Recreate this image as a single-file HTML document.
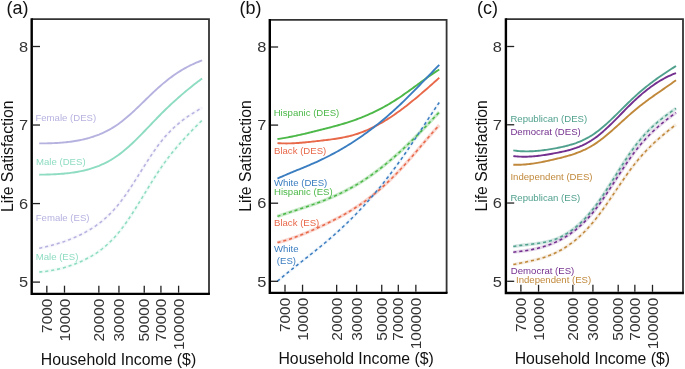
<!DOCTYPE html><html><head><meta charset="utf-8"><style>html,body{margin:0;padding:0;background:#fff;width:685px;height:369px;overflow:hidden}svg{display:block;will-change:transform;filter:blur(0.3px)}text{font-family:"Liberation Sans",sans-serif}</style></head><body>
<svg width="685" height="369" viewBox="0 0 685 369">
<rect width="685" height="369" fill="#fff"/>
<path d="M39.23 143.42 L40.72 143.41 L42.22 143.40 L43.71 143.39 L45.21 143.37 L46.70 143.34 L48.20 143.31 L49.69 143.27 L51.19 143.22 L52.68 143.17 L54.17 143.10 L55.67 143.03 L57.16 142.95 L58.66 142.86 L60.15 142.75 L61.65 142.64 L63.14 142.51 L64.64 142.38 L66.13 142.23 L67.63 142.06 L69.12 141.89 L70.62 141.69 L72.11 141.49 L73.61 141.27 L75.10 141.03 L76.60 140.78 L78.09 140.51 L79.59 140.22 L81.08 139.91 L82.58 139.59 L84.07 139.25 L85.57 138.88 L87.06 138.50 L88.56 138.09 L90.05 137.66 L91.55 137.21 L93.04 136.73 L94.53 136.22 L96.03 135.69 L97.52 135.13 L99.02 134.55 L100.51 133.93 L102.01 133.28 L103.50 132.60 L105.00 131.89 L106.49 131.15 L107.99 130.37 L109.48 129.56 L110.98 128.71 L112.47 127.83 L113.97 126.91 L115.46 125.95 L116.96 124.95 L118.45 123.91 L119.95 122.83 L121.44 121.70 L122.94 120.54 L124.43 119.34 L125.93 118.10 L127.42 116.83 L128.92 115.53 L130.41 114.21 L131.91 112.86 L133.40 111.48 L134.89 110.09 L136.39 108.68 L137.88 107.25 L139.38 105.82 L140.87 104.37 L142.37 102.92 L143.86 101.46 L145.36 100.01 L146.85 98.55 L148.35 97.10 L149.84 95.65 L151.34 94.22 L152.83 92.80 L154.33 91.39 L155.82 89.99 L157.32 88.62 L158.81 87.27 L160.31 85.95 L161.80 84.65 L163.30 83.38 L164.79 82.15 L166.29 80.94 L167.78 79.76 L169.28 78.61 L170.77 77.48 L172.27 76.39 L173.76 75.32 L175.25 74.29 L176.75 73.28 L178.24 72.30 L179.74 71.35 L181.23 70.43 L182.73 69.53 L184.22 68.66 L185.72 67.82 L187.21 67.01 L188.71 66.23 L190.20 65.47 L191.70 64.74 L193.19 64.04 L194.69 63.36 L196.18 62.71 L197.68 62.09 L199.17 61.50 L200.67 60.93 L202.16 60.39" fill="none" stroke="#b6b2e0" stroke-width="1.9"/>
<path d="M39.23 174.69 L40.72 174.67 L42.22 174.64 L43.71 174.62 L45.21 174.58 L46.70 174.55 L48.20 174.50 L49.69 174.46 L51.19 174.40 L52.68 174.34 L54.17 174.28 L55.67 174.20 L57.16 174.12 L58.66 174.03 L60.15 173.92 L61.65 173.81 L63.14 173.69 L64.64 173.55 L66.13 173.40 L67.63 173.24 L69.12 173.07 L70.62 172.88 L72.11 172.68 L73.61 172.46 L75.10 172.23 L76.60 171.98 L78.09 171.72 L79.59 171.43 L81.08 171.13 L82.58 170.81 L84.07 170.47 L85.57 170.11 L87.06 169.73 L88.56 169.32 L90.05 168.89 L91.55 168.44 L93.04 167.96 L94.53 167.45 L96.03 166.92 L97.52 166.36 L99.02 165.77 L100.51 165.14 L102.01 164.49 L103.50 163.81 L105.00 163.09 L106.49 162.34 L107.99 161.55 L109.48 160.73 L110.98 159.87 L112.47 158.97 L113.97 158.03 L115.46 157.06 L116.96 156.04 L118.45 154.98 L119.95 153.88 L121.44 152.74 L122.94 151.56 L124.43 150.33 L125.93 149.07 L127.42 147.77 L128.92 146.44 L130.41 145.07 L131.91 143.68 L133.40 142.26 L134.89 140.82 L136.39 139.35 L137.88 137.87 L139.38 136.37 L140.87 134.85 L142.37 133.32 L143.86 131.77 L145.36 130.22 L146.85 128.66 L148.35 127.10 L149.84 125.53 L151.34 123.97 L152.83 122.41 L154.33 120.85 L155.82 119.30 L157.32 117.76 L158.81 116.22 L160.31 114.71 L161.80 113.20 L163.30 111.72 L164.79 110.25 L166.29 108.80 L167.78 107.36 L169.28 105.94 L170.77 104.54 L172.27 103.15 L173.76 101.78 L175.25 100.43 L176.75 99.09 L178.24 97.76 L179.74 96.45 L181.23 95.15 L182.73 93.87 L184.22 92.60 L185.72 91.35 L187.21 90.11 L188.71 88.88 L190.20 87.67 L191.70 86.47 L193.19 85.29 L194.69 84.12 L196.18 82.96 L197.68 81.81 L199.17 80.67 L200.67 79.55 L202.16 78.44" fill="none" stroke="#8edcc2" stroke-width="1.9"/>
<path d="M39.23 248.23 L40.72 247.93 L42.22 247.61 L43.71 247.29 L45.21 246.96 L46.70 246.61 L48.20 246.25 L49.69 245.88 L51.19 245.49 L52.68 245.10 L54.17 244.68 L55.67 244.26 L57.16 243.82 L58.66 243.36 L60.15 242.89 L61.65 242.40 L63.14 241.90 L64.64 241.38 L66.13 240.84 L67.63 240.28 L69.12 239.71 L70.62 239.12 L72.11 238.51 L73.61 237.88 L75.10 237.24 L76.60 236.57 L78.09 235.88 L79.59 235.18 L81.08 234.45 L82.58 233.69 L84.07 232.92 L85.57 232.12 L87.06 231.29 L88.56 230.43 L90.05 229.54 L91.55 228.62 L93.04 227.66 L94.53 226.67 L96.03 225.64 L97.52 224.56 L99.02 223.45 L100.51 222.30 L102.01 221.10 L103.50 219.85 L105.00 218.56 L106.49 217.21 L107.99 215.81 L109.48 214.36 L110.98 212.86 L112.47 211.30 L113.97 209.68 L115.46 208.00 L116.96 206.26 L118.45 204.45 L119.95 202.58 L121.44 200.64 L122.94 198.64 L124.43 196.58 L125.93 194.47 L127.42 192.30 L128.92 190.10 L130.41 187.85 L131.91 185.57 L133.40 183.27 L134.89 180.93 L136.39 178.58 L137.88 176.22 L139.38 173.85 L140.87 171.47 L142.37 169.10 L143.86 166.73 L145.36 164.38 L146.85 162.04 L148.35 159.72 L149.84 157.43 L151.34 155.17 L152.83 152.95 L154.33 150.77 L155.82 148.63 L157.32 146.55 L158.81 144.53 L160.31 142.56 L161.80 140.67 L163.30 138.84 L164.79 137.07 L166.29 135.37 L167.78 133.74 L169.28 132.16 L170.77 130.64 L172.27 129.17 L173.76 127.75 L175.25 126.39 L176.75 125.07 L178.24 123.80 L179.74 122.57 L181.23 121.38 L182.73 120.23 L184.22 119.11 L185.72 118.03 L187.21 116.98 L188.71 115.96 L190.20 114.97 L191.70 114.00 L193.19 113.05 L194.69 112.12 L196.18 111.21 L197.68 110.32 L199.17 109.44 L200.67 108.56 L202.16 107.70" fill="none" stroke="#b6b2e0" stroke-opacity="0.10" stroke-width="3.4"/>
<path d="M39.23 248.23 L40.72 247.93 L42.22 247.61 L43.71 247.29 L45.21 246.96 L46.70 246.61 L48.20 246.25 L49.69 245.88 L51.19 245.49 L52.68 245.10 L54.17 244.68 L55.67 244.26 L57.16 243.82 L58.66 243.36 L60.15 242.89 L61.65 242.40 L63.14 241.90 L64.64 241.38 L66.13 240.84 L67.63 240.28 L69.12 239.71 L70.62 239.12 L72.11 238.51 L73.61 237.88 L75.10 237.24 L76.60 236.57 L78.09 235.88 L79.59 235.18 L81.08 234.45 L82.58 233.69 L84.07 232.92 L85.57 232.12 L87.06 231.29 L88.56 230.43 L90.05 229.54 L91.55 228.62 L93.04 227.66 L94.53 226.67 L96.03 225.64 L97.52 224.56 L99.02 223.45 L100.51 222.30 L102.01 221.10 L103.50 219.85 L105.00 218.56 L106.49 217.21 L107.99 215.81 L109.48 214.36 L110.98 212.86 L112.47 211.30 L113.97 209.68 L115.46 208.00 L116.96 206.26 L118.45 204.45 L119.95 202.58 L121.44 200.64 L122.94 198.64 L124.43 196.58 L125.93 194.47 L127.42 192.30 L128.92 190.10 L130.41 187.85 L131.91 185.57 L133.40 183.27 L134.89 180.93 L136.39 178.58 L137.88 176.22 L139.38 173.85 L140.87 171.47 L142.37 169.10 L143.86 166.73 L145.36 164.38 L146.85 162.04 L148.35 159.72 L149.84 157.43 L151.34 155.17 L152.83 152.95 L154.33 150.77 L155.82 148.63 L157.32 146.55 L158.81 144.53 L160.31 142.56 L161.80 140.67 L163.30 138.84 L164.79 137.07 L166.29 135.37 L167.78 133.74 L169.28 132.16 L170.77 130.64 L172.27 129.17 L173.76 127.75 L175.25 126.39 L176.75 125.07 L178.24 123.80 L179.74 122.57 L181.23 121.38 L182.73 120.23 L184.22 119.11 L185.72 118.03 L187.21 116.98 L188.71 115.96 L190.20 114.97 L191.70 114.00 L193.19 113.05 L194.69 112.12 L196.18 111.21 L197.68 110.32 L199.17 109.44 L200.67 108.56 L202.16 107.70" fill="none" stroke="#b6b2e0" stroke-width="1.55" stroke-dasharray="3.1 2.9"/>
<path d="M39.23 272.00 L40.72 271.88 L42.22 271.75 L43.71 271.60 L45.21 271.43 L46.70 271.24 L48.20 271.03 L49.69 270.80 L51.19 270.56 L52.68 270.29 L54.17 270.01 L55.67 269.70 L57.16 269.38 L58.66 269.04 L60.15 268.67 L61.65 268.29 L63.14 267.89 L64.64 267.46 L66.13 267.02 L67.63 266.56 L69.12 266.07 L70.62 265.57 L72.11 265.04 L73.61 264.49 L75.10 263.92 L76.60 263.33 L78.09 262.72 L79.59 262.09 L81.08 261.43 L82.58 260.76 L84.07 260.05 L85.57 259.32 L87.06 258.56 L88.56 257.77 L90.05 256.95 L91.55 256.10 L93.04 255.20 L94.53 254.27 L96.03 253.31 L97.52 252.30 L99.02 251.24 L100.51 250.14 L102.01 249.00 L103.50 247.81 L105.00 246.57 L106.49 245.27 L107.99 243.92 L109.48 242.52 L110.98 241.06 L112.47 239.54 L113.97 237.96 L115.46 236.32 L116.96 234.61 L118.45 232.84 L119.95 231.00 L121.44 229.09 L122.94 227.11 L124.43 225.07 L125.93 222.97 L127.42 220.82 L128.92 218.62 L130.41 216.38 L131.91 214.09 L133.40 211.77 L134.89 209.41 L136.39 207.03 L137.88 204.63 L139.38 202.20 L140.87 199.77 L142.37 197.32 L143.86 194.86 L145.36 192.41 L146.85 189.96 L148.35 187.51 L149.84 185.08 L151.34 182.67 L152.83 180.27 L154.33 177.90 L155.82 175.56 L157.32 173.25 L158.81 170.99 L160.31 168.76 L161.80 166.58 L163.30 164.45 L164.79 162.36 L166.29 160.33 L167.78 158.33 L169.28 156.37 L170.77 154.46 L172.27 152.58 L173.76 150.74 L175.25 148.93 L176.75 147.15 L178.24 145.41 L179.74 143.69 L181.23 142.00 L182.73 140.34 L184.22 138.70 L185.72 137.08 L187.21 135.48 L188.71 133.90 L190.20 132.33 L191.70 130.78 L193.19 129.24 L194.69 127.72 L196.18 126.20 L197.68 124.69 L199.17 123.18 L200.67 121.68 L202.16 120.19" fill="none" stroke="#8edcc2" stroke-opacity="0.12" stroke-width="3.4"/>
<path d="M39.23 272.00 L40.72 271.88 L42.22 271.75 L43.71 271.60 L45.21 271.43 L46.70 271.24 L48.20 271.03 L49.69 270.80 L51.19 270.56 L52.68 270.29 L54.17 270.01 L55.67 269.70 L57.16 269.38 L58.66 269.04 L60.15 268.67 L61.65 268.29 L63.14 267.89 L64.64 267.46 L66.13 267.02 L67.63 266.56 L69.12 266.07 L70.62 265.57 L72.11 265.04 L73.61 264.49 L75.10 263.92 L76.60 263.33 L78.09 262.72 L79.59 262.09 L81.08 261.43 L82.58 260.76 L84.07 260.05 L85.57 259.32 L87.06 258.56 L88.56 257.77 L90.05 256.95 L91.55 256.10 L93.04 255.20 L94.53 254.27 L96.03 253.31 L97.52 252.30 L99.02 251.24 L100.51 250.14 L102.01 249.00 L103.50 247.81 L105.00 246.57 L106.49 245.27 L107.99 243.92 L109.48 242.52 L110.98 241.06 L112.47 239.54 L113.97 237.96 L115.46 236.32 L116.96 234.61 L118.45 232.84 L119.95 231.00 L121.44 229.09 L122.94 227.11 L124.43 225.07 L125.93 222.97 L127.42 220.82 L128.92 218.62 L130.41 216.38 L131.91 214.09 L133.40 211.77 L134.89 209.41 L136.39 207.03 L137.88 204.63 L139.38 202.20 L140.87 199.77 L142.37 197.32 L143.86 194.86 L145.36 192.41 L146.85 189.96 L148.35 187.51 L149.84 185.08 L151.34 182.67 L152.83 180.27 L154.33 177.90 L155.82 175.56 L157.32 173.25 L158.81 170.99 L160.31 168.76 L161.80 166.58 L163.30 164.45 L164.79 162.36 L166.29 160.33 L167.78 158.33 L169.28 156.37 L170.77 154.46 L172.27 152.58 L173.76 150.74 L175.25 148.93 L176.75 147.15 L178.24 145.41 L179.74 143.69 L181.23 142.00 L182.73 140.34 L184.22 138.70 L185.72 137.08 L187.21 135.48 L188.71 133.90 L190.20 132.33 L191.70 130.78 L193.19 129.24 L194.69 127.72 L196.18 126.20 L197.68 124.69 L199.17 123.18 L200.67 121.68 L202.16 120.19" fill="none" stroke="#8edcc2" stroke-width="1.55" stroke-dasharray="3.1 2.9"/>
<text x="35.4" y="121.4" font-size="9.6" fill="#b6b2e0">Female (DES)</text>
<text x="36.0" y="165.1" font-size="9.6" fill="#8edcc2">Male (DES)</text>
<text x="35.7" y="221.4" font-size="9.6" fill="#b6b2e0">Female (ES)</text>
<text x="35.7" y="260.1" font-size="9.6" fill="#8edcc2">Male (ES)</text>
<path d="M31.70 19.10 H209.00 V293.90" fill="none" stroke="#333" stroke-width="1.8"/>
<path d="M31.70 18.20 V293.90 H209.90" fill="none" stroke="#000" stroke-width="2.4"/>
<line x1="32.90" y1="46.50" x2="40.00" y2="46.50" stroke="#222" stroke-width="1.3"/>
<text transform="translate(28.00 51.72) scale(1.05 0.970)" font-size="15.6" fill="#333" text-anchor="end">8</text>
<line x1="32.90" y1="125.03" x2="40.00" y2="125.03" stroke="#222" stroke-width="1.3"/>
<text transform="translate(28.00 130.25) scale(1.05 0.970)" font-size="15.6" fill="#333" text-anchor="end">7</text>
<line x1="32.90" y1="203.57" x2="40.00" y2="203.57" stroke="#222" stroke-width="1.3"/>
<text transform="translate(28.00 208.78) scale(1.05 0.970)" font-size="15.6" fill="#333" text-anchor="end">6</text>
<line x1="32.90" y1="282.10" x2="40.00" y2="282.10" stroke="#222" stroke-width="1.3"/>
<text transform="translate(28.00 287.32) scale(1.05 0.970)" font-size="15.6" fill="#333" text-anchor="end">5</text>
<line x1="46.83" y1="285.70" x2="46.83" y2="292.70" stroke="#222" stroke-width="1.3"/>
<text transform="translate(51.95 298.60) rotate(-90) scale(1 0.900)" font-size="15.45" fill="#333" text-anchor="end">7000</text>
<line x1="64.50" y1="285.70" x2="64.50" y2="292.70" stroke="#222" stroke-width="1.3"/>
<text transform="translate(69.63 298.60) rotate(-90) scale(1 0.900)" font-size="15.45" fill="#333" text-anchor="end">10000</text>
<line x1="98.85" y1="285.70" x2="98.85" y2="292.70" stroke="#222" stroke-width="1.3"/>
<text transform="translate(103.97 298.60) rotate(-90) scale(1 0.900)" font-size="15.45" fill="#333" text-anchor="end">20000</text>
<line x1="118.94" y1="285.70" x2="118.94" y2="292.70" stroke="#222" stroke-width="1.3"/>
<text transform="translate(124.07 298.60) rotate(-90) scale(1 0.900)" font-size="15.45" fill="#333" text-anchor="end">30000</text>
<line x1="144.25" y1="285.70" x2="144.25" y2="292.70" stroke="#222" stroke-width="1.3"/>
<text transform="translate(149.38 298.60) rotate(-90) scale(1 0.900)" font-size="15.45" fill="#333" text-anchor="end">50000</text>
<line x1="160.93" y1="285.70" x2="160.93" y2="292.70" stroke="#222" stroke-width="1.3"/>
<text transform="translate(166.05 298.60) rotate(-90) scale(1 0.900)" font-size="15.45" fill="#333" text-anchor="end">70000</text>
<line x1="178.60" y1="285.70" x2="178.60" y2="292.70" stroke="#222" stroke-width="1.3"/>
<text transform="translate(183.73 298.60) rotate(-90) scale(1 0.900)" font-size="15.45" fill="#333" text-anchor="end">100000</text>
<text x="6.60" y="14.00" font-size="18" fill="#111">(a)</text>
<text x="118.45" y="364.90" font-size="15.8" fill="#111" text-anchor="middle">Household Income ($)</text>
<text x="12.60" y="156.25" font-size="15.8" fill="#111" text-anchor="middle" transform="rotate(-90 12.60 156.25)">Life Satisfaction</text>
<path d="M277.45 139.03 L278.95 138.82 L280.45 138.60 L281.95 138.37 L283.45 138.13 L284.94 137.87 L286.44 137.61 L287.94 137.34 L289.44 137.05 L290.94 136.76 L292.43 136.46 L293.93 136.15 L295.43 135.84 L296.93 135.52 L298.43 135.19 L299.93 134.85 L301.42 134.51 L302.92 134.16 L304.42 133.81 L305.92 133.46 L307.42 133.10 L308.91 132.74 L310.41 132.37 L311.91 132.00 L313.41 131.63 L314.91 131.26 L316.40 130.89 L317.90 130.51 L319.40 130.14 L320.90 129.76 L322.40 129.39 L323.89 129.01 L325.39 128.63 L326.89 128.25 L328.39 127.86 L329.89 127.48 L331.38 127.08 L332.88 126.68 L334.38 126.28 L335.88 125.87 L337.38 125.46 L338.88 125.03 L340.37 124.61 L341.87 124.17 L343.37 123.72 L344.87 123.27 L346.37 122.81 L347.86 122.33 L349.36 121.85 L350.86 121.35 L352.36 120.85 L353.86 120.33 L355.35 119.80 L356.85 119.26 L358.35 118.70 L359.85 118.13 L361.35 117.55 L362.84 116.95 L364.34 116.33 L365.84 115.71 L367.34 115.06 L368.84 114.41 L370.33 113.74 L371.83 113.05 L373.33 112.35 L374.83 111.63 L376.33 110.89 L377.83 110.15 L379.32 109.38 L380.82 108.60 L382.32 107.80 L383.82 106.99 L385.32 106.16 L386.81 105.31 L388.31 104.45 L389.81 103.57 L391.31 102.67 L392.81 101.76 L394.30 100.83 L395.80 99.88 L397.30 98.91 L398.80 97.93 L400.30 96.93 L401.79 95.91 L403.29 94.88 L404.79 93.83 L406.29 92.77 L407.79 91.71 L409.28 90.63 L410.78 89.55 L412.28 88.46 L413.78 87.36 L415.28 86.26 L416.78 85.16 L418.27 84.07 L419.77 82.97 L421.27 81.87 L422.77 80.78 L424.27 79.70 L425.76 78.62 L427.26 77.56 L428.76 76.50 L430.26 75.45 L431.76 74.42 L433.25 73.40 L434.75 72.40 L436.25 71.42 L437.75 70.46 L439.25 69.51" fill="none" stroke="#4cb848" stroke-width="1.9"/>
<path d="M277.45 143.15 L278.95 143.24 L280.45 143.31 L281.95 143.37 L283.45 143.41 L284.94 143.42 L286.44 143.43 L287.94 143.41 L289.44 143.38 L290.94 143.34 L292.43 143.28 L293.93 143.21 L295.43 143.13 L296.93 143.04 L298.43 142.94 L299.93 142.82 L301.42 142.70 L302.92 142.57 L304.42 142.44 L305.92 142.29 L307.42 142.14 L308.91 141.99 L310.41 141.83 L311.91 141.67 L313.41 141.50 L314.91 141.33 L316.40 141.16 L317.90 141.00 L319.40 140.83 L320.90 140.66 L322.40 140.49 L323.89 140.31 L325.39 140.14 L326.89 139.96 L328.39 139.77 L329.89 139.58 L331.38 139.38 L332.88 139.17 L334.38 138.96 L335.88 138.73 L337.38 138.49 L338.88 138.25 L340.37 137.98 L341.87 137.71 L343.37 137.42 L344.87 137.11 L346.37 136.79 L347.86 136.45 L349.36 136.09 L350.86 135.71 L352.36 135.30 L353.86 134.88 L355.35 134.44 L356.85 133.97 L358.35 133.48 L359.85 132.96 L361.35 132.42 L362.84 131.85 L364.34 131.25 L365.84 130.64 L367.34 130.00 L368.84 129.33 L370.33 128.64 L371.83 127.93 L373.33 127.20 L374.83 126.44 L376.33 125.66 L377.83 124.86 L379.32 124.04 L380.82 123.19 L382.32 122.33 L383.82 121.44 L385.32 120.53 L386.81 119.61 L388.31 118.66 L389.81 117.70 L391.31 116.71 L392.81 115.71 L394.30 114.68 L395.80 113.64 L397.30 112.59 L398.80 111.51 L400.30 110.41 L401.79 109.30 L403.29 108.18 L404.79 107.04 L406.29 105.88 L407.79 104.71 L409.28 103.52 L410.78 102.32 L412.28 101.11 L413.78 99.88 L415.28 98.65 L416.78 97.40 L418.27 96.15 L419.77 94.88 L421.27 93.60 L422.77 92.32 L424.27 91.03 L425.76 89.73 L427.26 88.42 L428.76 87.10 L430.26 85.79 L431.76 84.46 L433.25 83.13 L434.75 81.80 L436.25 80.46 L437.75 79.12 L439.25 77.78" fill="none" stroke="#e8684a" stroke-width="1.9"/>
<path d="M277.45 178.58 L278.95 177.90 L280.45 177.22 L281.95 176.55 L283.45 175.90 L284.94 175.25 L286.44 174.61 L287.94 173.97 L289.44 173.34 L290.94 172.71 L292.43 172.09 L293.93 171.47 L295.43 170.86 L296.93 170.24 L298.43 169.63 L299.93 169.01 L301.42 168.40 L302.92 167.78 L304.42 167.16 L305.92 166.54 L307.42 165.91 L308.91 165.28 L310.41 164.64 L311.91 163.99 L313.41 163.34 L314.91 162.68 L316.40 162.01 L317.90 161.33 L319.40 160.64 L320.90 159.94 L322.40 159.22 L323.89 158.50 L325.39 157.76 L326.89 157.02 L328.39 156.26 L329.89 155.49 L331.38 154.71 L332.88 153.91 L334.38 153.11 L335.88 152.29 L337.38 151.46 L338.88 150.62 L340.37 149.76 L341.87 148.90 L343.37 148.02 L344.87 147.13 L346.37 146.22 L347.86 145.30 L349.36 144.37 L350.86 143.43 L352.36 142.47 L353.86 141.50 L355.35 140.52 L356.85 139.53 L358.35 138.52 L359.85 137.49 L361.35 136.46 L362.84 135.41 L364.34 134.34 L365.84 133.26 L367.34 132.17 L368.84 131.06 L370.33 129.94 L371.83 128.81 L373.33 127.66 L374.83 126.50 L376.33 125.32 L377.83 124.13 L379.32 122.92 L380.82 121.70 L382.32 120.46 L383.82 119.21 L385.32 117.95 L386.81 116.67 L388.31 115.37 L389.81 114.06 L391.31 112.74 L392.81 111.40 L394.30 110.04 L395.80 108.67 L397.30 107.28 L398.80 105.88 L400.30 104.46 L401.79 103.03 L403.29 101.59 L404.79 100.13 L406.29 98.66 L407.79 97.17 L409.28 95.68 L410.78 94.18 L412.28 92.67 L413.78 91.15 L415.28 89.62 L416.78 88.08 L418.27 86.54 L419.77 85.00 L421.27 83.45 L422.77 81.90 L424.27 80.34 L425.76 78.79 L427.26 77.23 L428.76 75.67 L430.26 74.11 L431.76 72.56 L433.25 71.00 L434.75 69.45 L436.25 67.90 L437.75 66.36 L439.25 64.82" fill="none" stroke="#3a7dc0" stroke-width="1.9"/>
<path d="M277.45 216.38 L278.95 215.86 L280.45 215.35 L281.95 214.85 L283.45 214.35 L284.94 213.85 L286.44 213.35 L287.94 212.86 L289.44 212.37 L290.94 211.88 L292.43 211.39 L293.93 210.90 L295.43 210.41 L296.93 209.92 L298.43 209.43 L299.93 208.94 L301.42 208.45 L302.92 207.95 L304.42 207.45 L305.92 206.95 L307.42 206.44 L308.91 205.93 L310.41 205.42 L311.91 204.89 L313.41 204.37 L314.91 203.83 L316.40 203.29 L317.90 202.74 L319.40 202.19 L320.90 201.62 L322.40 201.05 L323.89 200.47 L325.39 199.88 L326.89 199.28 L328.39 198.67 L329.89 198.04 L331.38 197.41 L332.88 196.77 L334.38 196.11 L335.88 195.44 L337.38 194.76 L338.88 194.07 L340.37 193.36 L341.87 192.64 L343.37 191.90 L344.87 191.15 L346.37 190.39 L347.86 189.60 L349.36 188.81 L350.86 188.00 L352.36 187.17 L353.86 186.32 L355.35 185.46 L356.85 184.57 L358.35 183.68 L359.85 182.76 L361.35 181.82 L362.84 180.87 L364.34 179.89 L365.84 178.90 L367.34 177.89 L368.84 176.87 L370.33 175.82 L371.83 174.76 L373.33 173.68 L374.83 172.59 L376.33 171.48 L377.83 170.35 L379.32 169.20 L380.82 168.04 L382.32 166.86 L383.82 165.67 L385.32 164.46 L386.81 163.23 L388.31 161.99 L389.81 160.74 L391.31 159.46 L392.81 158.18 L394.30 156.88 L395.80 155.56 L397.30 154.23 L398.80 152.88 L400.30 151.52 L401.79 150.15 L403.29 148.76 L404.79 147.36 L406.29 145.94 L407.79 144.51 L409.28 143.07 L410.78 141.62 L412.28 140.16 L413.78 138.68 L415.28 137.20 L416.78 135.70 L418.27 134.19 L419.77 132.67 L421.27 131.14 L422.77 129.60 L424.27 128.05 L425.76 126.49 L427.26 124.92 L428.76 123.35 L430.26 121.76 L431.76 120.17 L433.25 118.57 L434.75 116.96 L436.25 115.35 L437.75 113.73 L439.25 112.10" fill="none" stroke="#4cb848" stroke-opacity="0.30" stroke-width="3.4"/>
<path d="M277.45 216.38 L278.95 215.86 L280.45 215.35 L281.95 214.85 L283.45 214.35 L284.94 213.85 L286.44 213.35 L287.94 212.86 L289.44 212.37 L290.94 211.88 L292.43 211.39 L293.93 210.90 L295.43 210.41 L296.93 209.92 L298.43 209.43 L299.93 208.94 L301.42 208.45 L302.92 207.95 L304.42 207.45 L305.92 206.95 L307.42 206.44 L308.91 205.93 L310.41 205.42 L311.91 204.89 L313.41 204.37 L314.91 203.83 L316.40 203.29 L317.90 202.74 L319.40 202.19 L320.90 201.62 L322.40 201.05 L323.89 200.47 L325.39 199.88 L326.89 199.28 L328.39 198.67 L329.89 198.04 L331.38 197.41 L332.88 196.77 L334.38 196.11 L335.88 195.44 L337.38 194.76 L338.88 194.07 L340.37 193.36 L341.87 192.64 L343.37 191.90 L344.87 191.15 L346.37 190.39 L347.86 189.60 L349.36 188.81 L350.86 188.00 L352.36 187.17 L353.86 186.32 L355.35 185.46 L356.85 184.57 L358.35 183.68 L359.85 182.76 L361.35 181.82 L362.84 180.87 L364.34 179.89 L365.84 178.90 L367.34 177.89 L368.84 176.87 L370.33 175.82 L371.83 174.76 L373.33 173.68 L374.83 172.59 L376.33 171.48 L377.83 170.35 L379.32 169.20 L380.82 168.04 L382.32 166.86 L383.82 165.67 L385.32 164.46 L386.81 163.23 L388.31 161.99 L389.81 160.74 L391.31 159.46 L392.81 158.18 L394.30 156.88 L395.80 155.56 L397.30 154.23 L398.80 152.88 L400.30 151.52 L401.79 150.15 L403.29 148.76 L404.79 147.36 L406.29 145.94 L407.79 144.51 L409.28 143.07 L410.78 141.62 L412.28 140.16 L413.78 138.68 L415.28 137.20 L416.78 135.70 L418.27 134.19 L419.77 132.67 L421.27 131.14 L422.77 129.60 L424.27 128.05 L425.76 126.49 L427.26 124.92 L428.76 123.35 L430.26 121.76 L431.76 120.17 L433.25 118.57 L434.75 116.96 L436.25 115.35 L437.75 113.73 L439.25 112.10" fill="none" stroke="#4cb848" stroke-width="1.55" stroke-dasharray="3.1 2.9"/>
<path d="M277.45 242.56 L278.95 242.20 L280.45 241.82 L281.95 241.42 L283.45 241.01 L284.94 240.57 L286.44 240.12 L287.94 239.65 L289.44 239.17 L290.94 238.67 L292.43 238.16 L293.93 237.63 L295.43 237.09 L296.93 236.53 L298.43 235.97 L299.93 235.39 L301.42 234.80 L302.92 234.19 L304.42 233.58 L305.92 232.96 L307.42 232.33 L308.91 231.69 L310.41 231.04 L311.91 230.39 L313.41 229.73 L314.91 229.06 L316.40 228.38 L317.90 227.70 L319.40 227.02 L320.90 226.33 L322.40 225.63 L323.89 224.93 L325.39 224.22 L326.89 223.50 L328.39 222.78 L329.89 222.04 L331.38 221.30 L332.88 220.55 L334.38 219.79 L335.88 219.01 L337.38 218.23 L338.88 217.44 L340.37 216.63 L341.87 215.81 L343.37 214.97 L344.87 214.13 L346.37 213.26 L347.86 212.39 L349.36 211.50 L350.86 210.59 L352.36 209.67 L353.86 208.72 L355.35 207.77 L356.85 206.79 L358.35 205.80 L359.85 204.78 L361.35 203.75 L362.84 202.70 L364.34 201.63 L365.84 200.54 L367.34 199.43 L368.84 198.30 L370.33 197.15 L371.83 195.97 L373.33 194.78 L374.83 193.57 L376.33 192.34 L377.83 191.08 L379.32 189.80 L380.82 188.51 L382.32 187.19 L383.82 185.84 L385.32 184.48 L386.81 183.09 L388.31 181.68 L389.81 180.25 L391.31 178.80 L392.81 177.32 L394.30 175.82 L395.80 174.29 L397.30 172.74 L398.80 171.17 L400.30 169.57 L401.79 167.96 L403.29 166.32 L404.79 164.66 L406.29 162.98 L407.79 161.29 L409.28 159.59 L410.78 157.87 L412.28 156.15 L413.78 154.41 L415.28 152.67 L416.78 150.92 L418.27 149.17 L419.77 147.42 L421.27 145.66 L422.77 143.91 L424.27 142.16 L425.76 140.42 L427.26 138.68 L428.76 136.95 L430.26 135.23 L431.76 133.52 L433.25 131.82 L434.75 130.14 L436.25 128.47 L437.75 126.83 L439.25 125.20" fill="none" stroke="#e8684a" stroke-opacity="0.25" stroke-width="3.4"/>
<path d="M277.45 242.56 L278.95 242.20 L280.45 241.82 L281.95 241.42 L283.45 241.01 L284.94 240.57 L286.44 240.12 L287.94 239.65 L289.44 239.17 L290.94 238.67 L292.43 238.16 L293.93 237.63 L295.43 237.09 L296.93 236.53 L298.43 235.97 L299.93 235.39 L301.42 234.80 L302.92 234.19 L304.42 233.58 L305.92 232.96 L307.42 232.33 L308.91 231.69 L310.41 231.04 L311.91 230.39 L313.41 229.73 L314.91 229.06 L316.40 228.38 L317.90 227.70 L319.40 227.02 L320.90 226.33 L322.40 225.63 L323.89 224.93 L325.39 224.22 L326.89 223.50 L328.39 222.78 L329.89 222.04 L331.38 221.30 L332.88 220.55 L334.38 219.79 L335.88 219.01 L337.38 218.23 L338.88 217.44 L340.37 216.63 L341.87 215.81 L343.37 214.97 L344.87 214.13 L346.37 213.26 L347.86 212.39 L349.36 211.50 L350.86 210.59 L352.36 209.67 L353.86 208.72 L355.35 207.77 L356.85 206.79 L358.35 205.80 L359.85 204.78 L361.35 203.75 L362.84 202.70 L364.34 201.63 L365.84 200.54 L367.34 199.43 L368.84 198.30 L370.33 197.15 L371.83 195.97 L373.33 194.78 L374.83 193.57 L376.33 192.34 L377.83 191.08 L379.32 189.80 L380.82 188.51 L382.32 187.19 L383.82 185.84 L385.32 184.48 L386.81 183.09 L388.31 181.68 L389.81 180.25 L391.31 178.80 L392.81 177.32 L394.30 175.82 L395.80 174.29 L397.30 172.74 L398.80 171.17 L400.30 169.57 L401.79 167.96 L403.29 166.32 L404.79 164.66 L406.29 162.98 L407.79 161.29 L409.28 159.59 L410.78 157.87 L412.28 156.15 L413.78 154.41 L415.28 152.67 L416.78 150.92 L418.27 149.17 L419.77 147.42 L421.27 145.66 L422.77 143.91 L424.27 142.16 L425.76 140.42 L427.26 138.68 L428.76 136.95 L430.26 135.23 L431.76 133.52 L433.25 131.82 L434.75 130.14 L436.25 128.47 L437.75 126.83 L439.25 125.20" fill="none" stroke="#e8684a" stroke-width="1.55" stroke-dasharray="3.1 2.9"/>
<path d="M277.45 281.25 L278.95 279.96 L280.45 278.67 L281.95 277.40 L283.45 276.15 L284.94 274.90 L286.44 273.67 L287.94 272.45 L289.44 271.23 L290.94 270.03 L292.43 268.83 L293.93 267.64 L295.43 266.45 L296.93 265.27 L298.43 264.09 L299.93 262.91 L301.42 261.74 L302.92 260.57 L304.42 259.40 L305.92 258.22 L307.42 257.05 L308.91 255.87 L310.41 254.69 L311.91 253.51 L313.41 252.32 L314.91 251.12 L316.40 249.92 L317.90 248.71 L319.40 247.49 L320.90 246.26 L322.40 245.02 L323.89 243.77 L325.39 242.51 L326.89 241.24 L328.39 239.96 L329.89 238.67 L331.38 237.37 L332.88 236.06 L334.38 234.73 L335.88 233.39 L337.38 232.04 L338.88 230.68 L340.37 229.31 L341.87 227.92 L343.37 226.51 L344.87 225.09 L346.37 223.66 L347.86 222.22 L349.36 220.75 L350.86 219.28 L352.36 217.78 L353.86 216.27 L355.35 214.75 L356.85 213.21 L358.35 211.65 L359.85 210.07 L361.35 208.48 L362.84 206.87 L364.34 205.24 L365.84 203.59 L367.34 201.93 L368.84 200.25 L370.33 198.55 L371.83 196.83 L373.33 195.09 L374.83 193.33 L376.33 191.56 L377.83 189.76 L379.32 187.95 L380.82 186.12 L382.32 184.27 L383.82 182.39 L385.32 180.50 L386.81 178.59 L388.31 176.66 L389.81 174.71 L391.31 172.74 L392.81 170.74 L394.30 168.73 L395.80 166.69 L397.30 164.64 L398.80 162.56 L400.30 160.46 L401.79 158.35 L403.29 156.21 L404.79 154.06 L406.29 151.89 L407.79 149.70 L409.28 147.50 L410.78 145.29 L412.28 143.07 L413.78 140.83 L415.28 138.59 L416.78 136.34 L418.27 134.08 L419.77 131.82 L421.27 129.55 L422.77 127.28 L424.27 125.01 L425.76 122.74 L427.26 120.46 L428.76 118.19 L430.26 115.92 L431.76 113.66 L433.25 111.40 L434.75 109.15 L436.25 106.91 L437.75 104.67 L439.25 102.45" fill="none" stroke="#3a7dc0" stroke-opacity="0.07" stroke-width="3.4"/>
<path d="M277.45 281.25 L278.95 279.96 L280.45 278.67 L281.95 277.40 L283.45 276.15 L284.94 274.90 L286.44 273.67 L287.94 272.45 L289.44 271.23 L290.94 270.03 L292.43 268.83 L293.93 267.64 L295.43 266.45 L296.93 265.27 L298.43 264.09 L299.93 262.91 L301.42 261.74 L302.92 260.57 L304.42 259.40 L305.92 258.22 L307.42 257.05 L308.91 255.87 L310.41 254.69 L311.91 253.51 L313.41 252.32 L314.91 251.12 L316.40 249.92 L317.90 248.71 L319.40 247.49 L320.90 246.26 L322.40 245.02 L323.89 243.77 L325.39 242.51 L326.89 241.24 L328.39 239.96 L329.89 238.67 L331.38 237.37 L332.88 236.06 L334.38 234.73 L335.88 233.39 L337.38 232.04 L338.88 230.68 L340.37 229.31 L341.87 227.92 L343.37 226.51 L344.87 225.09 L346.37 223.66 L347.86 222.22 L349.36 220.75 L350.86 219.28 L352.36 217.78 L353.86 216.27 L355.35 214.75 L356.85 213.21 L358.35 211.65 L359.85 210.07 L361.35 208.48 L362.84 206.87 L364.34 205.24 L365.84 203.59 L367.34 201.93 L368.84 200.25 L370.33 198.55 L371.83 196.83 L373.33 195.09 L374.83 193.33 L376.33 191.56 L377.83 189.76 L379.32 187.95 L380.82 186.12 L382.32 184.27 L383.82 182.39 L385.32 180.50 L386.81 178.59 L388.31 176.66 L389.81 174.71 L391.31 172.74 L392.81 170.74 L394.30 168.73 L395.80 166.69 L397.30 164.64 L398.80 162.56 L400.30 160.46 L401.79 158.35 L403.29 156.21 L404.79 154.06 L406.29 151.89 L407.79 149.70 L409.28 147.50 L410.78 145.29 L412.28 143.07 L413.78 140.83 L415.28 138.59 L416.78 136.34 L418.27 134.08 L419.77 131.82 L421.27 129.55 L422.77 127.28 L424.27 125.01 L425.76 122.74 L427.26 120.46 L428.76 118.19 L430.26 115.92 L431.76 113.66 L433.25 111.40 L434.75 109.15 L436.25 106.91 L437.75 104.67 L439.25 102.45" fill="none" stroke="#3a7dc0" stroke-width="1.55" stroke-dasharray="3.1 2.9"/>
<text x="273.7" y="115.7" font-size="9.6" fill="#4cb848">Hispanic (DES)</text>
<text x="274.0" y="153.6" font-size="9.6" fill="#e8684a">Black (DES)</text>
<text x="274.0" y="186.0" font-size="9.6" fill="#3a7dc0">White (DES)</text>
<text x="274.0" y="195.3" font-size="9.6" fill="#4cb848">Hispanic (ES)</text>
<text x="274.0" y="225.7" font-size="9.6" fill="#e8684a">Black (ES)</text>
<text x="274.0" y="252.1" font-size="9.6" fill="#3a7dc0">White</text>
<text x="276.8" y="263.6" font-size="9.6" fill="#3a7dc0">(ES)</text>
<path d="M269.80 19.80 H446.60 V292.90" fill="none" stroke="#333" stroke-width="1.8"/>
<path d="M269.80 18.90 V292.90 H447.50" fill="none" stroke="#000" stroke-width="2.4"/>
<line x1="271.00" y1="47.00" x2="278.10" y2="47.00" stroke="#222" stroke-width="1.3"/>
<text transform="translate(266.30 52.22) scale(1.05 0.970)" font-size="15.6" fill="#333" text-anchor="end">8</text>
<line x1="271.00" y1="125.10" x2="278.10" y2="125.10" stroke="#222" stroke-width="1.3"/>
<text transform="translate(266.30 130.32) scale(1.05 0.970)" font-size="15.6" fill="#333" text-anchor="end">7</text>
<line x1="271.00" y1="203.20" x2="278.10" y2="203.20" stroke="#222" stroke-width="1.3"/>
<text transform="translate(266.30 208.42) scale(1.05 0.970)" font-size="15.6" fill="#333" text-anchor="end">6</text>
<line x1="271.00" y1="281.30" x2="278.10" y2="281.30" stroke="#222" stroke-width="1.3"/>
<text transform="translate(266.30 286.52) scale(1.05 0.970)" font-size="15.6" fill="#333" text-anchor="end">5</text>
<line x1="285.00" y1="284.70" x2="285.00" y2="291.70" stroke="#222" stroke-width="1.3"/>
<text transform="translate(290.13 297.70) rotate(-90) scale(1 0.900)" font-size="15.45" fill="#333" text-anchor="end">7000</text>
<line x1="302.55" y1="284.70" x2="302.55" y2="291.70" stroke="#222" stroke-width="1.3"/>
<text transform="translate(307.68 297.70) rotate(-90) scale(1 0.900)" font-size="15.45" fill="#333" text-anchor="end">10000</text>
<line x1="336.66" y1="284.70" x2="336.66" y2="291.70" stroke="#222" stroke-width="1.3"/>
<text transform="translate(341.78 297.70) rotate(-90) scale(1 0.900)" font-size="15.45" fill="#333" text-anchor="end">20000</text>
<line x1="356.61" y1="284.70" x2="356.61" y2="291.70" stroke="#222" stroke-width="1.3"/>
<text transform="translate(361.73 297.70) rotate(-90) scale(1 0.900)" font-size="15.45" fill="#333" text-anchor="end">30000</text>
<line x1="381.74" y1="284.70" x2="381.74" y2="291.70" stroke="#222" stroke-width="1.3"/>
<text transform="translate(386.87 297.70) rotate(-90) scale(1 0.900)" font-size="15.45" fill="#333" text-anchor="end">50000</text>
<line x1="398.30" y1="284.70" x2="398.30" y2="291.70" stroke="#222" stroke-width="1.3"/>
<text transform="translate(403.43 297.70) rotate(-90) scale(1 0.900)" font-size="15.45" fill="#333" text-anchor="end">70000</text>
<line x1="415.85" y1="284.70" x2="415.85" y2="291.70" stroke="#222" stroke-width="1.3"/>
<text transform="translate(420.98 297.70) rotate(-90) scale(1 0.900)" font-size="15.45" fill="#333" text-anchor="end">100000</text>
<text x="239.60" y="14.00" font-size="18" fill="#111">(b)</text>
<text x="356.15" y="363.70" font-size="15.8" fill="#111" text-anchor="middle">Household Income ($)</text>
<text x="251.10" y="156.05" font-size="15.8" fill="#111" text-anchor="middle" transform="rotate(-90 251.10 156.05)">Life Satisfaction</text>
<path d="M513.31 150.40 L514.80 150.61 L516.30 150.79 L517.79 150.95 L519.28 151.08 L520.77 151.18 L522.27 151.26 L523.76 151.32 L525.25 151.35 L526.75 151.36 L528.24 151.35 L529.73 151.32 L531.22 151.27 L532.72 151.20 L534.21 151.11 L535.70 151.00 L537.20 150.88 L538.69 150.74 L540.18 150.58 L541.67 150.42 L543.17 150.23 L544.66 150.04 L546.15 149.83 L547.65 149.61 L549.14 149.37 L550.63 149.13 L552.12 148.88 L553.62 148.62 L555.11 148.35 L556.60 148.08 L558.10 147.79 L559.59 147.50 L561.08 147.19 L562.57 146.86 L564.07 146.52 L565.56 146.16 L567.05 145.78 L568.55 145.38 L570.04 144.96 L571.53 144.52 L573.02 144.05 L574.52 143.55 L576.01 143.03 L577.50 142.47 L579.00 141.88 L580.49 141.26 L581.98 140.61 L583.47 139.92 L584.97 139.19 L586.46 138.42 L587.95 137.61 L589.45 136.76 L590.94 135.87 L592.43 134.93 L593.92 133.94 L595.42 132.90 L596.91 131.82 L598.40 130.69 L599.90 129.51 L601.39 128.30 L602.88 127.05 L604.37 125.77 L605.87 124.45 L607.36 123.11 L608.85 121.74 L610.35 120.34 L611.84 118.93 L613.33 117.50 L614.82 116.05 L616.32 114.59 L617.81 113.12 L619.30 111.64 L620.80 110.16 L622.29 108.68 L623.78 107.20 L625.27 105.72 L626.77 104.25 L628.26 102.80 L629.75 101.35 L631.25 99.92 L632.74 98.50 L634.23 97.11 L635.72 95.74 L637.22 94.40 L638.71 93.08 L640.20 91.78 L641.70 90.51 L643.19 89.25 L644.68 88.03 L646.17 86.82 L647.67 85.63 L649.16 84.46 L650.65 83.31 L652.15 82.18 L653.64 81.06 L655.13 79.97 L656.62 78.89 L658.12 77.82 L659.61 76.77 L661.10 75.73 L662.60 74.71 L664.09 73.69 L665.58 72.70 L667.07 71.71 L668.57 70.73 L670.06 69.76 L671.55 68.80 L673.04 67.85 L674.54 66.91 L676.03 65.97" fill="none" stroke="#50a08e" stroke-width="1.9"/>
<path d="M513.31 156.10 L514.80 156.26 L516.30 156.40 L517.79 156.51 L519.28 156.60 L520.77 156.66 L522.27 156.70 L523.76 156.72 L525.25 156.71 L526.75 156.68 L528.24 156.63 L529.73 156.56 L531.22 156.47 L532.72 156.36 L534.21 156.24 L535.70 156.09 L537.20 155.94 L538.69 155.77 L540.18 155.58 L541.67 155.38 L543.17 155.17 L544.66 154.95 L546.15 154.72 L547.65 154.48 L549.14 154.23 L550.63 153.98 L552.12 153.71 L553.62 153.44 L555.11 153.17 L556.60 152.89 L558.10 152.60 L559.59 152.30 L561.08 151.99 L562.57 151.67 L564.07 151.34 L565.56 150.98 L567.05 150.61 L568.55 150.22 L570.04 149.81 L571.53 149.37 L573.02 148.91 L574.52 148.42 L576.01 147.91 L577.50 147.36 L579.00 146.78 L580.49 146.16 L581.98 145.51 L583.47 144.82 L584.97 144.10 L586.46 143.33 L587.95 142.51 L589.45 141.65 L590.94 140.75 L592.43 139.79 L593.92 138.79 L595.42 137.73 L596.91 136.63 L598.40 135.47 L599.90 134.27 L601.39 133.02 L602.88 131.73 L604.37 130.41 L605.87 129.06 L607.36 127.67 L608.85 126.25 L610.35 124.81 L611.84 123.35 L613.33 121.87 L614.82 120.38 L616.32 118.87 L617.81 117.35 L619.30 115.82 L620.80 114.29 L622.29 112.76 L623.78 111.24 L625.27 109.71 L626.77 108.20 L628.26 106.70 L629.75 105.21 L631.25 103.74 L632.74 102.28 L634.23 100.86 L635.72 99.45 L637.22 98.08 L638.71 96.74 L640.20 95.42 L641.70 94.13 L643.19 92.87 L644.68 91.65 L646.17 90.45 L647.67 89.28 L649.16 88.14 L650.65 87.03 L652.15 85.96 L653.64 84.91 L655.13 83.90 L656.62 82.91 L658.12 81.96 L659.61 81.04 L661.10 80.15 L662.60 79.30 L664.09 78.48 L665.58 77.69 L667.07 76.93 L668.57 76.21 L670.06 75.52 L671.55 74.86 L673.04 74.24 L674.54 73.65 L676.03 73.10" fill="none" stroke="#74308f" stroke-width="1.9"/>
<path d="M513.31 164.69 L514.80 164.75 L516.30 164.78 L517.79 164.79 L519.28 164.77 L520.77 164.73 L522.27 164.66 L523.76 164.57 L525.25 164.45 L526.75 164.32 L528.24 164.17 L529.73 164.00 L531.22 163.81 L532.72 163.60 L534.21 163.38 L535.70 163.15 L537.20 162.90 L538.69 162.63 L540.18 162.36 L541.67 162.07 L543.17 161.77 L544.66 161.46 L546.15 161.15 L547.65 160.83 L549.14 160.50 L550.63 160.16 L552.12 159.82 L553.62 159.48 L555.11 159.14 L556.60 158.79 L558.10 158.43 L559.59 158.07 L561.08 157.71 L562.57 157.33 L564.07 156.94 L565.56 156.54 L567.05 156.13 L568.55 155.70 L570.04 155.25 L571.53 154.79 L573.02 154.31 L574.52 153.80 L576.01 153.27 L577.50 152.72 L579.00 152.14 L580.49 151.53 L581.98 150.89 L583.47 150.23 L584.97 149.53 L586.46 148.79 L587.95 148.03 L589.45 147.22 L590.94 146.38 L592.43 145.49 L593.92 144.57 L595.42 143.60 L596.91 142.59 L598.40 141.54 L599.90 140.45 L601.39 139.33 L602.88 138.17 L604.37 136.99 L605.87 135.77 L607.36 134.54 L608.85 133.27 L610.35 131.99 L611.84 130.69 L613.33 129.37 L614.82 128.05 L616.32 126.71 L617.81 125.36 L619.30 124.01 L620.80 122.65 L622.29 121.29 L623.78 119.94 L625.27 118.59 L626.77 117.25 L628.26 115.91 L629.75 114.59 L631.25 113.28 L632.74 111.99 L634.23 110.72 L635.72 109.47 L637.22 108.24 L638.71 107.03 L640.20 105.85 L641.70 104.68 L643.19 103.53 L644.68 102.40 L646.17 101.28 L647.67 100.18 L649.16 99.09 L650.65 98.01 L652.15 96.94 L653.64 95.88 L655.13 94.83 L656.62 93.79 L658.12 92.75 L659.61 91.71 L661.10 90.68 L662.60 89.64 L664.09 88.61 L665.58 87.58 L667.07 86.54 L668.57 85.50 L670.06 84.46 L671.55 83.41 L673.04 82.35 L674.54 81.28 L676.03 80.20" fill="none" stroke="#c0883a" stroke-width="1.9"/>
<path d="M513.31 246.59 L514.80 246.31 L516.30 246.05 L517.79 245.81 L519.28 245.59 L520.77 245.39 L522.27 245.20 L523.76 245.02 L525.25 244.85 L526.75 244.69 L528.24 244.53 L529.73 244.37 L531.22 244.21 L532.72 244.04 L534.21 243.87 L535.70 243.68 L537.20 243.49 L538.69 243.28 L540.18 243.06 L541.67 242.81 L543.17 242.54 L544.66 242.25 L546.15 241.93 L547.65 241.58 L549.14 241.20 L550.63 240.79 L552.12 240.33 L553.62 239.84 L555.11 239.31 L556.60 238.73 L558.10 238.10 L559.59 237.43 L561.08 236.72 L562.57 235.96 L564.07 235.15 L565.56 234.29 L567.05 233.39 L568.55 232.43 L570.04 231.43 L571.53 230.37 L573.02 229.26 L574.52 228.10 L576.01 226.89 L577.50 225.63 L579.00 224.31 L580.49 222.93 L581.98 221.50 L583.47 220.01 L584.97 218.47 L586.46 216.86 L587.95 215.20 L589.45 213.48 L590.94 211.70 L592.43 209.86 L593.92 207.96 L595.42 205.99 L596.91 203.97 L598.40 201.89 L599.90 199.76 L601.39 197.59 L602.88 195.37 L604.37 193.12 L605.87 190.83 L607.36 188.52 L608.85 186.18 L610.35 183.83 L611.84 181.46 L613.33 179.08 L614.82 176.69 L616.32 174.31 L617.81 171.93 L619.30 169.55 L620.80 167.20 L622.29 164.85 L623.78 162.53 L625.27 160.24 L626.77 157.98 L628.26 155.75 L629.75 153.56 L631.25 151.42 L632.74 149.33 L634.23 147.29 L635.72 145.31 L637.22 143.38 L638.71 141.52 L640.20 139.71 L641.70 137.95 L643.19 136.25 L644.68 134.59 L646.17 132.98 L647.67 131.43 L649.16 129.91 L650.65 128.44 L652.15 127.01 L653.64 125.62 L655.13 124.27 L656.62 122.96 L658.12 121.68 L659.61 120.44 L661.10 119.23 L662.60 118.04 L664.09 116.89 L665.58 115.76 L667.07 114.66 L668.57 113.58 L670.06 112.52 L671.55 111.48 L673.04 110.46 L674.54 109.46 L676.03 108.47" fill="none" stroke="#50a08e" stroke-opacity="0.25" stroke-width="3.4"/>
<path d="M513.31 246.59 L514.80 246.31 L516.30 246.05 L517.79 245.81 L519.28 245.59 L520.77 245.39 L522.27 245.20 L523.76 245.02 L525.25 244.85 L526.75 244.69 L528.24 244.53 L529.73 244.37 L531.22 244.21 L532.72 244.04 L534.21 243.87 L535.70 243.68 L537.20 243.49 L538.69 243.28 L540.18 243.06 L541.67 242.81 L543.17 242.54 L544.66 242.25 L546.15 241.93 L547.65 241.58 L549.14 241.20 L550.63 240.79 L552.12 240.33 L553.62 239.84 L555.11 239.31 L556.60 238.73 L558.10 238.10 L559.59 237.43 L561.08 236.72 L562.57 235.96 L564.07 235.15 L565.56 234.29 L567.05 233.39 L568.55 232.43 L570.04 231.43 L571.53 230.37 L573.02 229.26 L574.52 228.10 L576.01 226.89 L577.50 225.63 L579.00 224.31 L580.49 222.93 L581.98 221.50 L583.47 220.01 L584.97 218.47 L586.46 216.86 L587.95 215.20 L589.45 213.48 L590.94 211.70 L592.43 209.86 L593.92 207.96 L595.42 205.99 L596.91 203.97 L598.40 201.89 L599.90 199.76 L601.39 197.59 L602.88 195.37 L604.37 193.12 L605.87 190.83 L607.36 188.52 L608.85 186.18 L610.35 183.83 L611.84 181.46 L613.33 179.08 L614.82 176.69 L616.32 174.31 L617.81 171.93 L619.30 169.55 L620.80 167.20 L622.29 164.85 L623.78 162.53 L625.27 160.24 L626.77 157.98 L628.26 155.75 L629.75 153.56 L631.25 151.42 L632.74 149.33 L634.23 147.29 L635.72 145.31 L637.22 143.38 L638.71 141.52 L640.20 139.71 L641.70 137.95 L643.19 136.25 L644.68 134.59 L646.17 132.98 L647.67 131.43 L649.16 129.91 L650.65 128.44 L652.15 127.01 L653.64 125.62 L655.13 124.27 L656.62 122.96 L658.12 121.68 L659.61 120.44 L661.10 119.23 L662.60 118.04 L664.09 116.89 L665.58 115.76 L667.07 114.66 L668.57 113.58 L670.06 112.52 L671.55 111.48 L673.04 110.46 L674.54 109.46 L676.03 108.47" fill="none" stroke="#50a08e" stroke-width="1.55" stroke-dasharray="3.1 2.9"/>
<path d="M513.31 252.17 L514.80 252.01 L516.30 251.85 L517.79 251.68 L519.28 251.50 L520.77 251.31 L522.27 251.11 L523.76 250.90 L525.25 250.68 L526.75 250.45 L528.24 250.20 L529.73 249.94 L531.22 249.67 L532.72 249.37 L534.21 249.06 L535.70 248.74 L537.20 248.39 L538.69 248.02 L540.18 247.63 L541.67 247.22 L543.17 246.79 L544.66 246.33 L546.15 245.85 L547.65 245.34 L549.14 244.81 L550.63 244.25 L552.12 243.66 L553.62 243.04 L555.11 242.40 L556.60 241.72 L558.10 241.01 L559.59 240.26 L561.08 239.48 L562.57 238.67 L564.07 237.81 L565.56 236.92 L567.05 235.99 L568.55 235.03 L570.04 234.01 L571.53 232.96 L573.02 231.87 L574.52 230.72 L576.01 229.54 L577.50 228.30 L579.00 227.02 L580.49 225.69 L581.98 224.31 L583.47 222.88 L584.97 221.39 L586.46 219.85 L587.95 218.26 L589.45 216.61 L590.94 214.90 L592.43 213.14 L593.92 211.32 L595.42 209.43 L596.91 207.49 L598.40 205.49 L599.90 203.45 L601.39 201.36 L602.88 199.23 L604.37 197.06 L605.87 194.86 L607.36 192.63 L608.85 190.38 L610.35 188.10 L611.84 185.82 L613.33 183.52 L614.82 181.21 L616.32 178.90 L617.81 176.60 L619.30 174.29 L620.80 172.00 L622.29 169.72 L623.78 167.47 L625.27 165.23 L626.77 163.02 L628.26 160.84 L629.75 158.70 L631.25 156.60 L632.74 154.54 L634.23 152.53 L635.72 150.58 L637.22 148.67 L638.71 146.82 L640.20 145.02 L641.70 143.26 L643.19 141.56 L644.68 139.90 L646.17 138.28 L647.67 136.70 L649.16 135.17 L650.65 133.67 L652.15 132.21 L653.64 130.79 L655.13 129.40 L656.62 128.04 L658.12 126.71 L659.61 125.42 L661.10 124.15 L662.60 122.90 L664.09 121.69 L665.58 120.49 L667.07 119.32 L668.57 118.17 L670.06 117.03 L671.55 115.91 L673.04 114.81 L674.54 113.72 L676.03 112.64" fill="none" stroke="#74308f" stroke-opacity="0.18" stroke-width="3.4"/>
<path d="M513.31 252.17 L514.80 252.01 L516.30 251.85 L517.79 251.68 L519.28 251.50 L520.77 251.31 L522.27 251.11 L523.76 250.90 L525.25 250.68 L526.75 250.45 L528.24 250.20 L529.73 249.94 L531.22 249.67 L532.72 249.37 L534.21 249.06 L535.70 248.74 L537.20 248.39 L538.69 248.02 L540.18 247.63 L541.67 247.22 L543.17 246.79 L544.66 246.33 L546.15 245.85 L547.65 245.34 L549.14 244.81 L550.63 244.25 L552.12 243.66 L553.62 243.04 L555.11 242.40 L556.60 241.72 L558.10 241.01 L559.59 240.26 L561.08 239.48 L562.57 238.67 L564.07 237.81 L565.56 236.92 L567.05 235.99 L568.55 235.03 L570.04 234.01 L571.53 232.96 L573.02 231.87 L574.52 230.72 L576.01 229.54 L577.50 228.30 L579.00 227.02 L580.49 225.69 L581.98 224.31 L583.47 222.88 L584.97 221.39 L586.46 219.85 L587.95 218.26 L589.45 216.61 L590.94 214.90 L592.43 213.14 L593.92 211.32 L595.42 209.43 L596.91 207.49 L598.40 205.49 L599.90 203.45 L601.39 201.36 L602.88 199.23 L604.37 197.06 L605.87 194.86 L607.36 192.63 L608.85 190.38 L610.35 188.10 L611.84 185.82 L613.33 183.52 L614.82 181.21 L616.32 178.90 L617.81 176.60 L619.30 174.29 L620.80 172.00 L622.29 169.72 L623.78 167.47 L625.27 165.23 L626.77 163.02 L628.26 160.84 L629.75 158.70 L631.25 156.60 L632.74 154.54 L634.23 152.53 L635.72 150.58 L637.22 148.67 L638.71 146.82 L640.20 145.02 L641.70 143.26 L643.19 141.56 L644.68 139.90 L646.17 138.28 L647.67 136.70 L649.16 135.17 L650.65 133.67 L652.15 132.21 L653.64 130.79 L655.13 129.40 L656.62 128.04 L658.12 126.71 L659.61 125.42 L661.10 124.15 L662.60 122.90 L664.09 121.69 L665.58 120.49 L667.07 119.32 L668.57 118.17 L670.06 117.03 L671.55 115.91 L673.04 114.81 L674.54 113.72 L676.03 112.64" fill="none" stroke="#74308f" stroke-width="1.55" stroke-dasharray="3.1 2.9"/>
<path d="M513.31 264.61 L514.80 264.29 L516.30 263.98 L517.79 263.67 L519.28 263.37 L520.77 263.06 L522.27 262.76 L523.76 262.45 L525.25 262.15 L526.75 261.83 L528.24 261.52 L529.73 261.19 L531.22 260.86 L532.72 260.51 L534.21 260.16 L535.70 259.79 L537.20 259.40 L538.69 259.00 L540.18 258.58 L541.67 258.14 L543.17 257.68 L544.66 257.20 L546.15 256.69 L547.65 256.16 L549.14 255.60 L550.63 255.01 L552.12 254.39 L553.62 253.74 L555.11 253.06 L556.60 252.34 L558.10 251.59 L559.59 250.80 L561.08 249.97 L562.57 249.11 L564.07 248.21 L565.56 247.27 L567.05 246.30 L568.55 245.28 L570.04 244.22 L571.53 243.12 L573.02 241.98 L574.52 240.80 L576.01 239.57 L577.50 238.30 L579.00 236.98 L580.49 235.62 L581.98 234.22 L583.47 232.76 L584.97 231.26 L586.46 229.71 L587.95 228.12 L589.45 226.47 L590.94 224.77 L592.43 223.03 L593.92 221.23 L595.42 219.38 L596.91 217.47 L598.40 215.53 L599.90 213.54 L601.39 211.51 L602.88 209.44 L604.37 207.35 L605.87 205.23 L607.36 203.08 L608.85 200.91 L610.35 198.73 L611.84 196.53 L613.33 194.33 L614.82 192.12 L616.32 189.91 L617.81 187.70 L619.30 185.50 L620.80 183.30 L622.29 181.12 L623.78 178.96 L625.27 176.82 L626.77 174.70 L628.26 172.62 L629.75 170.56 L631.25 168.54 L632.74 166.56 L634.23 164.62 L635.72 162.73 L637.22 160.89 L638.71 159.09 L640.20 157.34 L641.70 155.63 L643.19 153.96 L644.68 152.34 L646.17 150.75 L647.67 149.19 L649.16 147.67 L650.65 146.19 L652.15 144.73 L653.64 143.31 L655.13 141.92 L656.62 140.55 L658.12 139.21 L659.61 137.89 L661.10 136.60 L662.60 135.32 L664.09 134.07 L665.58 132.83 L667.07 131.61 L668.57 130.40 L670.06 129.21 L671.55 128.03 L673.04 126.86 L674.54 125.70 L676.03 124.54" fill="none" stroke="#c0883a" stroke-opacity="0.15" stroke-width="3.4"/>
<path d="M513.31 264.61 L514.80 264.29 L516.30 263.98 L517.79 263.67 L519.28 263.37 L520.77 263.06 L522.27 262.76 L523.76 262.45 L525.25 262.15 L526.75 261.83 L528.24 261.52 L529.73 261.19 L531.22 260.86 L532.72 260.51 L534.21 260.16 L535.70 259.79 L537.20 259.40 L538.69 259.00 L540.18 258.58 L541.67 258.14 L543.17 257.68 L544.66 257.20 L546.15 256.69 L547.65 256.16 L549.14 255.60 L550.63 255.01 L552.12 254.39 L553.62 253.74 L555.11 253.06 L556.60 252.34 L558.10 251.59 L559.59 250.80 L561.08 249.97 L562.57 249.11 L564.07 248.21 L565.56 247.27 L567.05 246.30 L568.55 245.28 L570.04 244.22 L571.53 243.12 L573.02 241.98 L574.52 240.80 L576.01 239.57 L577.50 238.30 L579.00 236.98 L580.49 235.62 L581.98 234.22 L583.47 232.76 L584.97 231.26 L586.46 229.71 L587.95 228.12 L589.45 226.47 L590.94 224.77 L592.43 223.03 L593.92 221.23 L595.42 219.38 L596.91 217.47 L598.40 215.53 L599.90 213.54 L601.39 211.51 L602.88 209.44 L604.37 207.35 L605.87 205.23 L607.36 203.08 L608.85 200.91 L610.35 198.73 L611.84 196.53 L613.33 194.33 L614.82 192.12 L616.32 189.91 L617.81 187.70 L619.30 185.50 L620.80 183.30 L622.29 181.12 L623.78 178.96 L625.27 176.82 L626.77 174.70 L628.26 172.62 L629.75 170.56 L631.25 168.54 L632.74 166.56 L634.23 164.62 L635.72 162.73 L637.22 160.89 L638.71 159.09 L640.20 157.34 L641.70 155.63 L643.19 153.96 L644.68 152.34 L646.17 150.75 L647.67 149.19 L649.16 147.67 L650.65 146.19 L652.15 144.73 L653.64 143.31 L655.13 141.92 L656.62 140.55 L658.12 139.21 L659.61 137.89 L661.10 136.60 L662.60 135.32 L664.09 134.07 L665.58 132.83 L667.07 131.61 L668.57 130.40 L670.06 129.21 L671.55 128.03 L673.04 126.86 L674.54 125.70 L676.03 124.54" fill="none" stroke="#c0883a" stroke-width="1.55" stroke-dasharray="3.1 2.9"/>
<text x="510.4" y="122.4" font-size="9.6" fill="#50a08e">Republican (DES)</text>
<text x="510.4" y="134.6" font-size="9.6" fill="#74308f">Democrat (DES)</text>
<text x="510.4" y="180.4" font-size="9.6" fill="#c0883a">Independent (DES)</text>
<text x="510.4" y="200.7" font-size="9.6" fill="#50a08e">Republican (ES)</text>
<text x="510.8" y="273.6" font-size="9.6" fill="#74308f">Democrat (ES)</text>
<text x="516.0" y="283.0" font-size="9.6" fill="#c0883a">Independent (ES)</text>
<path d="M505.90 19.10 H683.00 V293.00" fill="none" stroke="#333" stroke-width="1.8"/>
<path d="M505.90 18.20 V293.00 H683.90" fill="none" stroke="#000" stroke-width="2.4"/>
<line x1="507.10" y1="46.50" x2="514.20" y2="46.50" stroke="#222" stroke-width="1.3"/>
<text transform="translate(501.80 51.72) scale(1.05 0.970)" font-size="15.6" fill="#333" text-anchor="end">8</text>
<line x1="507.10" y1="124.77" x2="514.20" y2="124.77" stroke="#222" stroke-width="1.3"/>
<text transform="translate(501.80 129.98) scale(1.05 0.970)" font-size="15.6" fill="#333" text-anchor="end">7</text>
<line x1="507.10" y1="203.03" x2="514.20" y2="203.03" stroke="#222" stroke-width="1.3"/>
<text transform="translate(501.80 208.25) scale(1.05 0.970)" font-size="15.6" fill="#333" text-anchor="end">6</text>
<line x1="507.10" y1="281.30" x2="514.20" y2="281.30" stroke="#222" stroke-width="1.3"/>
<text transform="translate(501.80 286.52) scale(1.05 0.970)" font-size="15.6" fill="#333" text-anchor="end">5</text>
<line x1="520.90" y1="284.80" x2="520.90" y2="291.80" stroke="#222" stroke-width="1.3"/>
<text transform="translate(526.03 297.70) rotate(-90) scale(1 0.900)" font-size="15.45" fill="#333" text-anchor="end">7000</text>
<line x1="538.55" y1="284.80" x2="538.55" y2="291.80" stroke="#222" stroke-width="1.3"/>
<text transform="translate(543.68 297.70) rotate(-90) scale(1 0.900)" font-size="15.45" fill="#333" text-anchor="end">10000</text>
<line x1="572.85" y1="284.80" x2="572.85" y2="291.80" stroke="#222" stroke-width="1.3"/>
<text transform="translate(577.98 297.70) rotate(-90) scale(1 0.900)" font-size="15.45" fill="#333" text-anchor="end">20000</text>
<line x1="592.92" y1="284.80" x2="592.92" y2="291.80" stroke="#222" stroke-width="1.3"/>
<text transform="translate(598.04 297.70) rotate(-90) scale(1 0.900)" font-size="15.45" fill="#333" text-anchor="end">30000</text>
<line x1="618.20" y1="284.80" x2="618.20" y2="291.80" stroke="#222" stroke-width="1.3"/>
<text transform="translate(623.32 297.70) rotate(-90) scale(1 0.900)" font-size="15.45" fill="#333" text-anchor="end">50000</text>
<line x1="634.85" y1="284.80" x2="634.85" y2="291.80" stroke="#222" stroke-width="1.3"/>
<text transform="translate(639.98 297.70) rotate(-90) scale(1 0.900)" font-size="15.45" fill="#333" text-anchor="end">70000</text>
<line x1="652.50" y1="284.80" x2="652.50" y2="291.80" stroke="#222" stroke-width="1.3"/>
<text transform="translate(657.63 297.70) rotate(-90) scale(1 0.900)" font-size="15.45" fill="#333" text-anchor="end">100000</text>
<text x="476.90" y="14.00" font-size="18" fill="#111">(c)</text>
<text x="592.35" y="363.90" font-size="15.8" fill="#111" text-anchor="middle">Household Income ($)</text>
<text x="487.10" y="155.85" font-size="15.8" fill="#111" text-anchor="middle" transform="rotate(-90 487.10 155.85)">Life Satisfaction</text>
</svg></body></html>
